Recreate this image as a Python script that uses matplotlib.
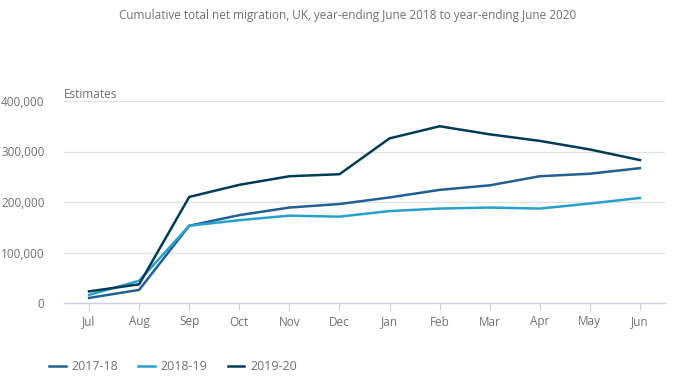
import matplotlib
matplotlib.use("Agg")
import matplotlib.pyplot as plt
from matplotlib.ticker import FuncFormatter

# Cumulative net migration by month
months = ["Jul", "Aug", "Sep", "Oct", "Nov", "Dec", "Jan", "Feb", "Mar", "Apr", "May", "Jun"]
y2017_18 = [10000, 26000, 153000, 174000, 189000, 196000, 209000, 224000, 233000, 251000, 256000, 267000]
y2018_19 = [16000, 44000, 153000, 164000, 173000, 171000, 182000, 187000, 189000, 187000, 197000, 208000]
y2019_20 = [23000, 37000, 210000, 234000, 251000, 255000, 326000, 350000, 334000, 321000, 304000, 283000]

series = [
    ("2017-18", y2017_18, "#206095"),
    ("2018-19", y2018_19, "#27a0cc"),
    ("2019-20", y2019_20, "#003c57"),
]

TEXT = "#707070"

plt.rcParams["font.family"] = ["Open Sans", "DejaVu Sans"]

fig = plt.figure(figsize=(6.96, 3.92), dpi=100)
ax = fig.add_axes([64 / 696, 89 / 392, 601 / 696, 202 / 392])

x = list(range(len(months)))
for label, vals, col in series:
    ax.plot(x, vals, color=col, lw=1.8, label=label, solid_joinstyle="round")

ax.set_xlim(-0.5, len(months) - 0.5)
ax.set_ylim(0, 400000)
ax.set_yticks([0, 100000, 200000, 300000, 400000])
ax.yaxis.set_major_formatter(FuncFormatter(lambda v, p: f"{int(v):,}"))
ax.set_xticks(x)
ax.set_xticklabels(months)

ax.grid(axis="y", color="#e2e2e2", lw=0.9)
ax.set_axisbelow(True)
for s in ["top", "right", "left"]:
    ax.spines[s].set_visible(False)
ax.spines["bottom"].set_color("#c8cfe0")
ax.spines["bottom"].set_linewidth(1.0)
ax.tick_params(axis="y", length=0, labelsize=8.5, labelcolor=TEXT, pad=14)
ax.tick_params(axis="x", length=5, color="#c8cfe0", labelsize=8.5, labelcolor=TEXT, pad=4)

fig.text(0.5, 1 - 16 / 392, "Cumulative total net migration, UK, year-ending June 2018 to year-ending June 2020",
         ha="center", va="center", fontsize=8.5, color=TEXT)
fig.text(64 / 696, 1 - 94 / 392, "Estimates", ha="left", va="center", fontsize=8.5, color=TEXT)

handles, labels = ax.get_legend_handles_labels()
fig.legend(handles, labels, loc="center left", bbox_to_anchor=(44 / 696, 1 - 367 / 392),
           ncol=3, frameon=False, fontsize=9, labelcolor=TEXT, handlelength=1.35,
           columnspacing=1.6, handletextpad=0.45, borderaxespad=0)

fig.savefig("out.png", dpi=100)
